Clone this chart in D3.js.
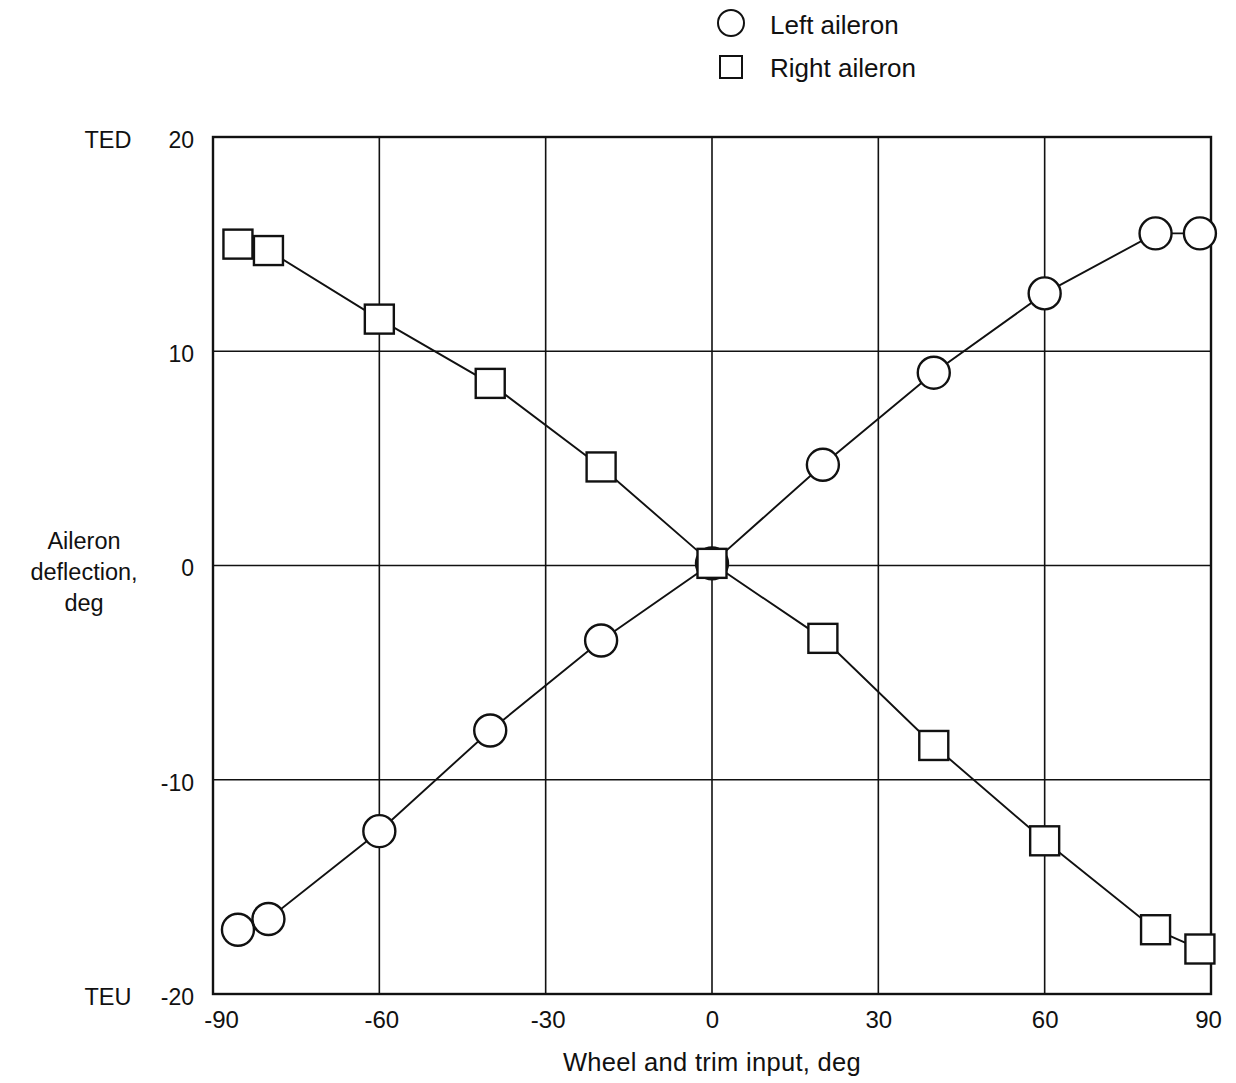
<!DOCTYPE html>
<html>
<head>
<meta charset="utf-8">
<script src="https://cdn.jsdelivr.net/npm/d3@7"></script>
<style>
  html, body { margin: 0; padding: 0; background: #fff; }
  svg text { font-family: "Liberation Sans", Arial, Helvetica, sans-serif; fill: #111; }
</style>
</head>
<body>
<svg id="chart" width="1236" height="1083"></svg>
<script>
// Wheel and trim input (deg) vs. aileron deflection (deg)
const leftInput  = [-85.5, -80, -60, -40, -20, 0, 20, 40, 60, 80, 88];
const leftDefl   = [-17.0, -16.5, -12.4, -7.7, -3.5, 0.1, 4.7, 9.0, 12.7, 15.5, 15.5];
const rightInput = [-85.5, -80, -60, -40, -20, 0, 20, 40, 60, 80, 88];
const rightDefl  = [15.0, 14.7, 11.5, 8.5, 4.6, 0.1, -3.4, -8.4, -12.85, -17.0, -17.9];

const xTicks = [-90, -60, -30, 0, 30, 60, 90];
const yTicks = [-20, -10, 0, 10, 20];
const seriesNames = ["Left aileron", "Right aileron"];

const svg = d3.select("#chart");
const plot = { left: 213, right: 1211, top: 137, bottom: 994 };
const ink = "#111";

const x = d3.scaleLinear().domain([-90, 90]).range([plot.left, plot.right]);
const y = d3.scaleLinear().domain([-20, 20]).range([plot.bottom, plot.top]);

// plain hyphen for negative numbers
const fmt = d => String(d);

// grid lines
const grid = svg.append("g").attr("stroke", ink).attr("stroke-width", 1.6);
grid.selectAll("line.vx").data(xTicks.slice(1, -1)).enter().append("line")
  .attr("x1", d => x(d)).attr("x2", d => x(d))
  .attr("y1", plot.top).attr("y2", plot.bottom);
grid.selectAll("line.hy").data(yTicks.slice(1, -1)).enter().append("line")
  .attr("x1", plot.left).attr("x2", plot.right)
  .attr("y1", d => y(d)).attr("y2", d => y(d));

// frame
svg.append("rect")
  .attr("x", plot.left).attr("y", plot.top)
  .attr("width", plot.right - plot.left).attr("height", plot.bottom - plot.top)
  .attr("fill", "none").attr("stroke", ink).attr("stroke-width", 2.4);

// axes (labels only, tick marks hidden)
const xAxis = d3.axisBottom(x).tickValues(xTicks).tickSize(0).tickPadding(17).tickFormat(fmt);
svg.append("g").attr("transform", `translate(0,${plot.bottom})`).call(xAxis)
  .call(g => g.select(".domain").remove())
  .call(g => g.selectAll("text")
    .attr("font-size", 24)
    .attr("dx", d => d === -90 ? 8 : (d === 90 ? -3 : (d < 0 ? 2 : 0)))
    .style("font-family", "Liberation Sans, Arial, sans-serif").style("fill", ink));

const yAxis = d3.axisLeft(y).tickValues(yTicks).tickSize(0).tickPadding(19).tickFormat(fmt);
svg.append("g").attr("transform", `translate(${plot.left},0)`).call(yAxis)
  .call(g => g.select(".domain").remove())
  .call(g => g.selectAll("text")
    .attr("font-size", 23).attr("dy", "0.45em")
    .style("font-family", "Liberation Sans, Arial, sans-serif").style("fill", ink));

// TED / TEU end labels
svg.append("text").attr("x", 108).attr("y", y(20)).attr("dy", "0.45em")
  .attr("text-anchor", "middle").attr("font-size", 23.5).text("TED");
svg.append("text").attr("x", 108).attr("y", y(-20)).attr("dy", "0.45em")
  .attr("text-anchor", "middle").attr("font-size", 23.5).text("TEU");

// axis titles
svg.append("text").attr("x", x(0)).attr("y", 1071)
  .attr("text-anchor", "middle").attr("font-size", 25.5).attr("letter-spacing", 0.3)
  .text("Wheel and trim input, deg");
const yTitle = svg.append("text").attr("text-anchor", "middle").attr("font-size", 23.5);
["Aileron", "deflection,", "deg"].forEach((t, i) => {
  yTitle.append("tspan").attr("x", 84).attr("y", 549 + i * 31).text(t);
});

const line = d3.line().x(d => x(d[0])).y(d => y(d[1]));
const leftPts = leftInput.map((v, i) => [v, leftDefl[i]]);
const rightPts = rightInput.map((v, i) => [v, rightDefl[i]]);

// connecting lines
[leftPts, rightPts].forEach(pts => {
  svg.append("path").datum(pts).attr("d", line)
    .attr("fill", "none").attr("stroke", ink).attr("stroke-width", 1.9);
});

// left aileron markers: circles
svg.append("g").selectAll("circle").data(leftPts).enter().append("circle")
  .attr("cx", d => x(d[0])).attr("cy", d => y(d[1])).attr("r", 16)
  .attr("fill", "#fff").attr("stroke", ink).attr("stroke-width", 2.4);

// right aileron markers: squares
const sq = 29;
svg.append("g").selectAll("rect").data(rightPts).enter().append("rect")
  .attr("x", d => x(d[0]) - sq / 2).attr("y", d => y(d[1]) - sq / 2)
  .attr("width", sq).attr("height", sq)
  .attr("fill", "#fff").attr("stroke", ink).attr("stroke-width", 2.4);

// legend
const legend = svg.append("g");
legend.append("circle").attr("cx", 731).attr("cy", 23).attr("r", 13)
  .attr("fill", "#fff").attr("stroke", ink).attr("stroke-width", 2);
legend.append("rect").attr("x", 720).attr("y", 56).attr("width", 22).attr("height", 22)
  .attr("fill", "#fff").attr("stroke", ink).attr("stroke-width", 2);
legend.selectAll("text").data(seriesNames).enter().append("text")
  .attr("x", 770).attr("y", (d, i) => 25 + i * 43).attr("dy", "0.36em")
  .attr("font-size", 26).text(d => d);
</script>
</body>
</html>
